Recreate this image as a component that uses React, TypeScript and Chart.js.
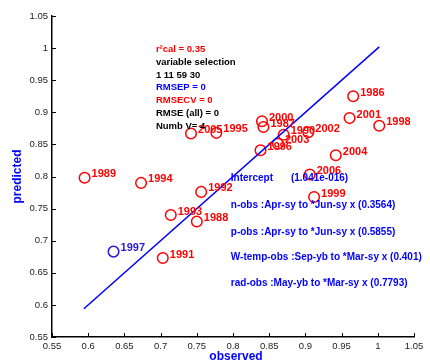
import React, { useEffect, useRef } from 'react';
import { Chart, registerables } from 'chart.js';

Chart.register(...registerables);

const years = ['1986', '1987', '1988', '1989', '1990', '1991', '1992', '1993', '1994', '1995', '1996', '1997', '1998', '1999', '2000', '2001', '2002', '2003', '2004', '2005', '2006'];
const observed = [0.966, 0.842, 0.750, 0.595, 0.870, 0.703, 0.756, 0.714, 0.673, 0.777, 0.838, 0.635, 1.002, 0.912, 0.840, 0.961, 0.904, 0.862, 0.942, 0.742, 0.906];
const predicted = [0.925, 0.877, 0.730, 0.798, 0.865, 0.673, 0.776, 0.740, 0.790, 0.868, 0.841, 0.683, 0.879, 0.768, 0.886, 0.891, 0.869, 0.851, 0.833, 0.867, 0.803];
const highlightYear = '1997';

const fitX = [0.594, 1.002];
const fitY = [0.594, 1.002];

const axisTicks = [0.55, 0.6, 0.65, 0.7, 0.75, 0.8, 0.85, 0.9, 0.95, 1, 1.05];

const statLines = [
  { text: 'r²cal = 0.35', color: '#ff0000' },
  { text: 'variable selection', color: '#000000' },
  { text: '1 11 59 30', color: '#000000' },
  { text: 'RMSEP = 0', color: '#0000ff' },
  { text: 'RMSECV = 0', color: '#ff0000' },
  { text: 'RMSE (all) = 0', color: '#000000' },
  { text: 'Numb V= 4', color: '#000000' },
];
const statAnchor = [0.6935, 0.998];

const coefLines = [
  'Intercept',
  'n-obs :Apr-sy to *Jun-sy x (0.3564)',
  'p-obs :Apr-sy to *Jun-sy x (0.5855)',
  'W-temp-obs :Sep-yb to *Mar-sy x (0.401)',
  'rad-obs :May-yb to *Mar-sy x (0.7793)',
];
const coefY = [0.797, 0.7553, 0.7137, 0.6738, 0.6333];
const coefX = 0.797;
const interceptValue = '(1.041e-016)';
const interceptValueX = 0.88;

const FONT = '"Liberation Sans", Arial, Helvetica, sans-serif';
const RED = '#ff0000';
const BLUE = '#0000ff';
const HL = '#2a18d8';

const overlay = {
  id: 'overlay',
  afterDraw(chart: any) {
    const ctx = chart.ctx as CanvasRenderingContext2D;
    const xs = chart.scales.x;
    const ys = chart.scales.y;
    const area = chart.chartArea;
    ctx.save();
    // inward ticks
    ctx.strokeStyle = '#000';
    ctx.lineWidth = 1;
    xs.ticks.forEach((t: any) => {
      const px = Math.round(xs.getPixelForValue(t.value)) + 0.5;
      ctx.beginPath();
      ctx.moveTo(px, area.bottom);
      ctx.lineTo(px, area.bottom - 4);
      ctx.stroke();
    });
    ys.ticks.forEach((t: any) => {
      const py = Math.round(ys.getPixelForValue(t.value)) + 0.5;
      ctx.beginPath();
      ctx.moveTo(area.left, py);
      ctx.lineTo(area.left + 4, py);
      ctx.stroke();
    });

    // year labels
    const meta = chart.getDatasetMeta(0);
    ctx.font = `bold 11px ${FONT}`;
    ctx.textAlign = 'left';
    ctx.textBaseline = 'middle';
    meta.data.forEach((el: any, i: number) => {
      ctx.fillStyle = years[i] === highlightYear ? HL : RED;
      ctx.fillText(years[i], el.x + 7, el.y - 3.5);
    });

    // stats block
    ctx.font = `bold 9.5px ${FONT}`;
    const sx = xs.getPixelForValue(statAnchor[0]);
    const sy = ys.getPixelForValue(statAnchor[1]);
    statLines.forEach((l, i) => {
      ctx.fillStyle = l.color;
      ctx.fillText(l.text, sx, sy + i * 12.8);
    });

    // coefficients block
    ctx.font = `bold 10px ${FONT}`;
    ctx.fillStyle = BLUE;
    coefLines.forEach((t, i) => {
      ctx.fillText(t, xs.getPixelForValue(coefX), ys.getPixelForValue(coefY[i]));
    });
    ctx.fillText(interceptValue, xs.getPixelForValue(interceptValueX), ys.getPixelForValue(coefY[0]));

    // axis titles
    ctx.font = `bold 12px ${FONT}`;
    ctx.fillStyle = BLUE;
    ctx.textAlign = 'center';
    ctx.fillText('observed', (area.left + area.right) / 2 + 3, 356.5);
    ctx.save();
    ctx.translate(18, (area.top + area.bottom) / 2);
    ctx.rotate(-Math.PI / 2);
    ctx.fillText('predicted', 0, 0);
    ctx.restore();
    ctx.restore();
  },
};

export default function App() {
  const ref = useRef<HTMLCanvasElement | null>(null);
  useEffect(() => {
    if (!ref.current) return;
    const fmt = (v: any) => String(Number(Number(v).toFixed(2)));
    const chart = new Chart(ref.current, {
      type: 'scatter',
      data: {
        datasets: [
          {
            label: 'years',
            data: observed.map((x, i) => ({ x, y: predicted[i] })),
            pointStyle: 'circle',
            pointRadius: 5.3,
            pointBorderWidth: 1.5,
            pointBackgroundColor: 'rgba(0,0,0,0)',
            pointBorderColor: years.map((y) => (y === highlightYear ? HL : RED)),
            showLine: false,
            order: 2,
          } as any,
          {
            label: 'fit',
            data: fitX.map((x, i) => ({ x, y: fitY[i] })),
            showLine: true,
            borderColor: BLUE,
            borderWidth: 1.5,
            pointRadius: 0,
            fill: false,
            order: 1,
          } as any,
        ],
      },
      options: {
        responsive: false,
        animation: false,
        layout: { padding: { top: 16, right: 16, left: 0, bottom: 0 } },
        plugins: { legend: { display: false }, tooltip: { enabled: false }, title: { display: false } },
        scales: {
          x: {
            type: 'linear',
            min: 0.55,
            max: 1.05,
            afterBuildTicks: (s: any) => { s.ticks = axisTicks.map((v) => ({ value: v })); },
            afterFit: (s: any) => { s.height = 26; },
            grid: { display: false, drawTicks: false },
            border: { display: true, color: '#000', width: 1.5 },
            ticks: { color: '#222', font: { size: 9.5, family: FONT }, padding: 4, maxRotation: 0, autoSkip: false, callback: fmt },
          },
          y: {
            type: 'linear',
            min: 0.55,
            max: 1.05,
            afterBuildTicks: (s: any) => { s.ticks = axisTicks.map((v) => ({ value: v })); },
            afterFit: (s: any) => { s.width = 52; },
            grid: { display: false, drawTicks: false },
            border: { display: true, color: '#000', width: 1.5 },
            ticks: { color: '#222', font: { size: 9.5, family: FONT }, padding: 4, autoSkip: false, callback: fmt },
          },
        },
      },
      plugins: [overlay],
    } as any);
    return () => chart.destroy();
  }, []);
  return (
    <div style={{ position: 'absolute', left: 0, top: 0, width: 430, height: 363, background: '#fff' }}>
      <canvas ref={ref} width={430} height={363} />
    </div>
  );
}
